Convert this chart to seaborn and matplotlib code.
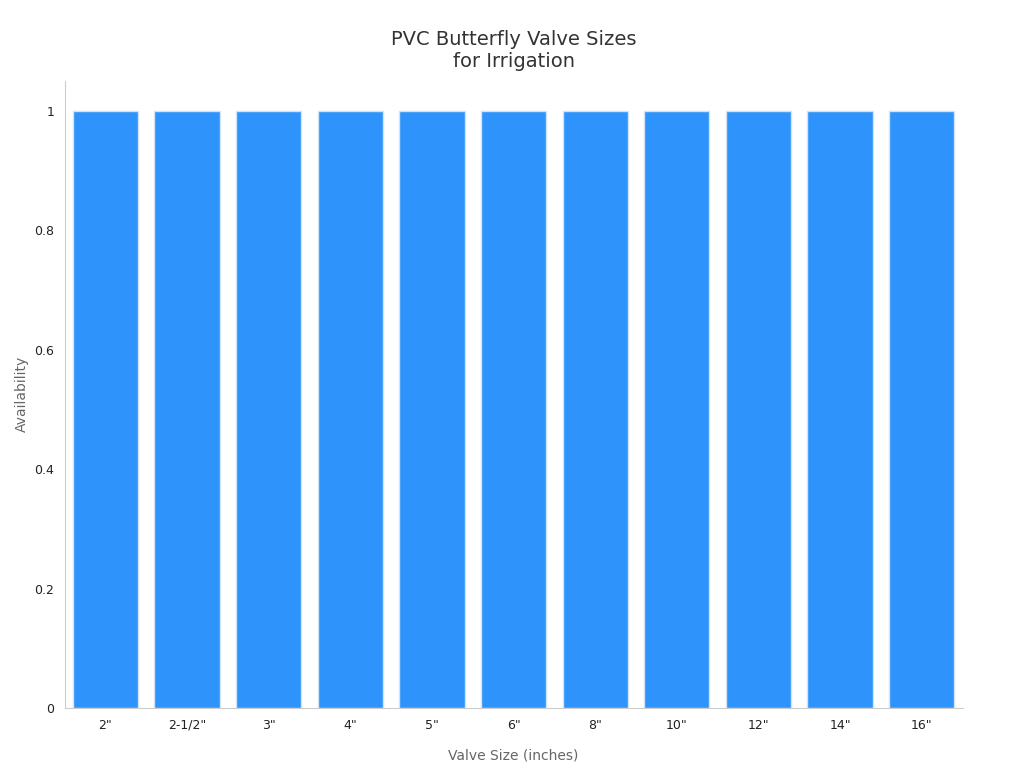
import matplotlib
matplotlib.use("Agg")
import matplotlib.pyplot as plt
import seaborn as sns
import pandas as pd

sizes = ['2"', '2-1/2"', '3"', '4"', '5"', '6"', '8"', '10"', '12"', '14"', '16"']
availability = [1, 1, 1, 1, 1, 1, 1, 1, 1, 1, 1]

df = pd.DataFrame({"size": sizes, "availability": availability})

sns.set_style("white")
fig, ax = plt.subplots(figsize=(10.24, 7.68), dpi=100)
sns.barplot(data=df, x="size", y="availability", color="#2e93fa", saturation=1,
            width=0.8, edgecolor="#d0e4f7", linewidth=1, ax=ax)

ax.set_ylim(0, 1.05)
ax.set_xlim(-0.5, 10.5)
ax.set_yticks([0, 0.2, 0.4, 0.6, 0.8, 1])
ax.set_yticklabels(["0", "0.2", "0.4", "0.6", "0.8", "1"])
ax.tick_params(axis="both", labelsize=9, colors="#222222", length=4, color="#cccccc")
ax.set_xlabel("Valve Size (inches)", fontsize=10, color="#666666", labelpad=12)
ax.set_ylabel("Availability", fontsize=10, color="#666666")
ax.set_title("PVC Butterfly Valve Sizes\nfor Irrigation", fontsize=14, color="#333333", pad=10)
sns.despine(ax=ax)
for s in ["left", "bottom"]:
    ax.spines[s].set_color("#cccccc")

plt.subplots_adjust(left=0.063, right=0.94, top=0.895, bottom=0.078)
fig.savefig("out.png", dpi=100)
